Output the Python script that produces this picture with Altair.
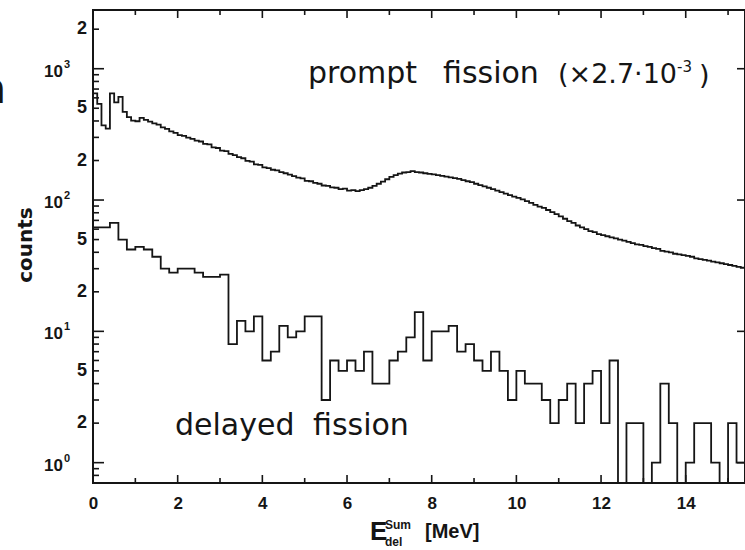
import altair as alt
import pandas as pd

# ---- spectra -------------------------------------------------------------
# prompt fission sum-energy spectrum (scaled by 2.7e-3), 0.1 MeV channels
PROMPT_BIN = 0.1
prompt_counts = [
    650, 540, 370, 350, 650, 555, 610, 470, 428, 402,
    398, 422, 408, 396, 384, 375, 358, 348, 333, 325,
    312, 308, 299, 292, 283, 279, 268, 265, 252, 249,
    238, 236, 225, 220, 212, 208, 199, 196, 187, 185,
    177, 175, 170, 168, 163, 160, 156, 152, 148, 146,
    140, 139, 135, 133, 129, 128, 125, 124, 121, 122,
    118, 119, 117, 119, 121, 124, 128, 133, 138, 144,
    150, 155, 159, 162, 163, 166, 163, 162, 160, 158,
    157, 155, 153, 151, 149, 147, 145, 142, 139, 137,
    133, 130, 127, 124, 121, 118, 115, 112, 109, 106,
    104, 101, 98, 95, 92, 89, 87, 84, 81, 78,
    75, 72, 69, 67, 64, 62, 60, 58, 57, 55,
    54, 53, 52, 51, 50, 49, 48, 47, 46, 45.5,
    44.5, 44, 43, 42.5, 41, 40.5, 40, 39, 38.5, 38,
    37.5, 37, 36, 35.5, 35, 34.5, 34, 33.5, 33, 32.5,
    32, 31.5, 31, 30.5, 30,
]

# delayed fission sum-energy spectrum, 0.2 MeV channels (counts)
DELAYED_BIN = 0.2
delayed_counts = [
    62, 62, 67, 50, 42, 44, 42, 37, 30, 28,
    30, 30, 28, 26, 26, 27, 8, 12, 10, 13,
    6, 7, 11, 9, 10, 13, 13, 3, 6, 5,
    6, 5, 7, 4, 4, 6, 7, 9, 14, 6,
    10, 10, 11, 7, 8, 6, 5, 7, 5, 3,
    5, 4, 4, 3, 2, 3, 4, 2, 4, 5,
    2, 6, 0, 2, 2, 0, 1, 4, 2, 0,
    1, 2, 2, 1, 0, 2, 1,
]

# ---- axis ticks and labels ----------------------------------------------
x_label_values = [0, 2, 4, 6, 8, 10, 12, 14]
x_major_ticks = [2, 4, 6, 8, 10, 12, 14]
x_minor_ticks = [1, 3, 5, 7, 9, 11, 13, 15]

y_decades = [1, 10, 100, 1000]
y_decade_exponents = ["0", "1", "2", "3"]
y_label_values = [2, 5, 20, 50, 200, 500, 2000]
y_label_text = ["2", "5", "2", "5", "2", "5", "2"]
y_minor_ticks = [0.8, 0.9, 2, 3, 4, 5, 6, 7, 8, 9,
                 20, 30, 40, 50, 60, 70, 80, 90,
                 200, 300, 400, 500, 600, 700, 800, 900, 2000]

X_MAX = 15.4
W, H = 652, 473
INK = "#151515"
TICK_FONT = "Liberation Sans Narrow, Liberation Sans"
TEXT_FONT = "DejaVu Sans"

prompt_df = pd.DataFrame({
    "E": [round(i * PROMPT_BIN, 2) for i in range(len(prompt_counts))],
    "c": prompt_counts,
})
delayed_df = pd.DataFrame({
    "E": [round(i * DELAYED_BIN, 2) for i in range(len(delayed_counts))] + [X_MAX],
    "c": delayed_counts + [delayed_counts[-1]],
})

xs = alt.Scale(domain=[0, X_MAX], nice=False, zero=False)
ys = alt.Scale(type="log", domain=[0.7, 2800], nice=False)
x_axis = alt.Axis(
    values=x_label_values, title=None, ticks=False, tickSize=0, domain=False,
    grid=False, labelFont=TICK_FONT, labelFontSize=17, labelFontWeight="bold",
    labelColor=INK, labelPadding=12, labelFlush=False, labelOverlap=False,
)


def xenc(field="E"):
    return alt.X(f"{field}:Q", scale=xs, axis=x_axis)


def yenc(field):
    return alt.Y(f"{field}:Q", scale=ys, axis=None)


# spectra as step lines
prompt_line = alt.Chart(prompt_df).mark_line(
    interpolate="step-after", color=INK, strokeWidth=1.8
).encode(x=xenc(), y=yenc("c"))

delayed_line = alt.Chart(delayed_df).transform_calculate(
    cp="max(datum.c, 0.7)"
).mark_line(
    interpolate="step-after", color=INK, strokeWidth=1.8
).encode(x=xenc(), y=yenc("cp"))


# inward-pointing ticks on all four sides
def x_ticks(values, y0, y1):
    return alt.Chart(pd.DataFrame({"E": values})).mark_rule(
        color=INK, strokeWidth=1.6
    ).encode(x=xenc(), y=alt.value(y0), y2=alt.value(y1))


def y_ticks(values, x0, x1):
    return alt.Chart(pd.DataFrame({"v": values})).mark_rule(
        color=INK, strokeWidth=1.6
    ).encode(y=yenc("v"), x=alt.value(x0), x2=alt.value(x1))


ticks = [
    x_ticks(x_major_ticks, H, H - 8),
    x_ticks(x_minor_ticks, H, H - 5),
    x_ticks(x_major_ticks, 0, 8),
    x_ticks(x_minor_ticks, 0, 5),
    y_ticks(y_decades, 0, 11),
    y_ticks(y_minor_ticks, 0, 6),
    y_ticks(y_decades, W - 8, W),
]

# y tick labels: 2 and 5 next to the axis, powers of ten further out
y_small_labels = alt.Chart(
    pd.DataFrame({"v": y_label_values, "t": y_label_text})
).mark_text(
    align="right", baseline="middle", font=TICK_FONT, fontSize=18,
    fontWeight="bold", color=INK
).encode(y=yenc("v"), text="t:N", x=alt.value(-6))

decade_df = pd.DataFrame({"v": y_decades, "exp": y_decade_exponents})
y_decade_base = alt.Chart(decade_df).mark_text(
    align="right", baseline="middle", font=TICK_FONT, fontSize=17,
    fontWeight="bold", color=INK, dy=3, text="10"
).encode(y=yenc("v"), x=alt.value(-30))
y_decade_exp = alt.Chart(decade_df).mark_text(
    align="left", baseline="middle", font=TICK_FONT, fontSize=11,
    fontWeight="bold", color=INK, dy=-4
).encode(y=yenc("v"), text="exp:N", x=alt.value(-29))


def label(text, x, y, size, font=TEXT_FONT, weight="normal", align="left",
          angle=None):
    kw = dict(text=text, align=align, baseline="alphabetic", font=font,
              fontSize=size, fontWeight=weight, color=INK)
    if angle is not None:
        kw["angle"] = angle
    return alt.Chart(alt.Data(values=[{}])).mark_text(**kw).encode(
        x=alt.value(x), y=alt.value(y)
    )


texts = [
    label("prompt", 215, 73, 30),
    label("fission", 350, 73, 30),
    label("(×2.7·10", 465, 73, 27),
    label("-3", 584, 62, 15),
    label(")", 606, 74, 27),
    label("delayed", 82, 425, 30),
    label("fission", 220, 425, 30),
    label("counts", -61, 235, 20, weight="bold", align="center", angle=270),
    label("n", -87, 93, 42, weight="bold", align="right"),
    label("E", 277, 530, 26, font=TICK_FONT, weight="bold"),
    label("Sum", 292, 519, 12, font=TICK_FONT, weight="bold"),
    label("del", 292, 536, 12, font=TICK_FONT, weight="bold"),
    label("[MeV]", 332, 528, 20, font=TICK_FONT, weight="bold"),
]

chart = alt.layer(
    prompt_line, delayed_line, *ticks,
    y_small_labels, y_decade_base, y_decade_exp, *texts
).properties(
    width=W, height=H,
    autosize=alt.AutoSizeParams(type="none"),
    padding={"left": 93, "top": 10, "right": 0, "bottom": 67},
    background="white",
).configure_view(stroke=INK, strokeWidth=2)

chart.save("out.html", embed_options={"renderer": "svg", "actions": False})
